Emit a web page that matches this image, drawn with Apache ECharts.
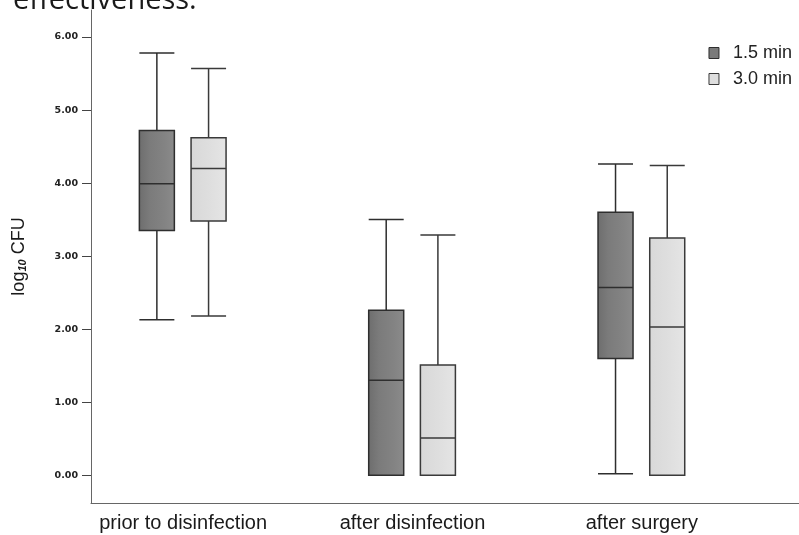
<!DOCTYPE html>
<html>
<head>
<meta charset="utf-8">
<script src="https://cdn.jsdelivr.net/npm/echarts@6/dist/echarts.min.js"></script>
<style>
html,body{margin:0;padding:0;background:#fff;}
#chart{width:799px;height:535px;}
</style>
</head>
<body>
<div id="chart"></div>
<script>
// ---- data ----
var categories = ['prior to disinfection', 'after disinfection', 'after surgery'];
var seriesNames = ['1.5 min', '3.0 min'];
// 1.5 min
var min15 = [2.13, 0.00, 0.02];
var q1_15 = [3.35, 0.00, 1.60];
var med15 = [3.99, 1.30, 2.57];
var q3_15 = [4.72, 2.26, 3.60];
var max15 = [5.78, 3.50, 4.26];
// 3.0 min
var min30 = [2.18, 0.00, 0.00];
var q1_30 = [3.48, 0.00, 0.00];
var med30 = [4.20, 0.51, 2.03];
var q3_30 = [4.62, 1.51, 3.25];
var max30 = [5.57, 3.29, 4.24];
// y ticks
var yTicks = [0, 1, 2, 3, 4, 5, 6];
var yTickLabels = ['0.00', '1.00', '2.00', '3.00', '4.00', '5.00', '6.00'];
var yMin = -0.38, yMax = 6.37;

function build(mn, q1, md, q3, mx) {
  return categories.map(function (c, i) { return [mn[i], q1[i], md[i], q3[i], mx[i]]; });
}

var chart = echarts.init(document.getElementById('chart'));
var hiddenY = function (gi) {
  return { type: 'value', gridIndex: gi, min: yMin, max: yMax, show: false };
};
var hiddenCatX = function (gi) {
  return { type: 'category', gridIndex: gi, data: categories, show: false };
};
var darkFill = new echarts.graphic.LinearGradient(0, 0, 1, 0, [
  { offset: 0, color: '#6d6d6d' }, { offset: 0.3, color: '#7b7b7b' },
  { offset: 0.7, color: '#838383' }, { offset: 1, color: '#8b8b8b' }
]);
var lightFill = new echarts.graphic.LinearGradient(0, 0, 1, 0, [
  { offset: 0, color: '#d8d8d8' }, { offset: 0.5, color: '#dedede' },
  { offset: 1, color: '#e5e5e5' }
]);

chart.setOption({
  animation: false,
  backgroundColor: '#ffffff',
  title: {
    text: 'effectiveness.',
    left: 8, top: -19,
    textStyle: { fontFamily: 'Open Sans', fontSize: 29, fontWeight: 'normal', color: '#1a1a1a' }
  },
  legend: {
    data: [
      { name: seriesNames[0], itemStyle: { color: '#7a7a7a', borderColor: '#2e2e2e', borderWidth: 1 } },
      { name: seriesNames[1], itemStyle: { color: '#dedede', borderColor: '#3a3a3a', borderWidth: 1 } }
    ],
    orient: 'vertical',
    right: 2, top: 39,
    itemWidth: 10, itemHeight: 11, itemGap: 8,
    icon: 'rect',
    textStyle: { fontFamily: 'Liberation Sans', fontSize: 18, color: '#222', padding: [0, 0, 0, 9] }
  },
  grid: [
    { left: 91, right: 0, top: 10, bottom: 32 },
    { left: 42.2, width: 688, top: 10, bottom: 32 },
    { left: 93.9, width: 688, top: 10, bottom: 32 },
    { left: 68.5, width: 688, top: 10, bottom: 32 }
  ],
  xAxis: [
    { type: 'value', gridIndex: 0, min: 0, max: 1,
      axisLine: { show: true, onZero: false, lineStyle: { color: '#666', width: 1 } },
      axisTick: { show: false }, axisLabel: { show: false }, splitLine: { show: false } },
    hiddenCatX(1),
    hiddenCatX(2),
    { type: 'category', gridIndex: 3, data: categories,
      axisLine: { show: false, onZero: false }, axisTick: { show: false }, splitLine: { show: false },
      axisLabel: { margin: 10, fontFamily: 'Liberation Sans', fontSize: 20, color: '#1a1a1a' } }
  ],
  yAxis: [
    { type: 'value', gridIndex: 0, min: yMin, max: yMax,
      name: 'log{sub|10} CFU',
      nameLocation: 'middle', nameGap: 63, nameRotate: 90,
      nameTextStyle: {
        fontFamily: 'Liberation Sans', fontSize: 18, color: '#1a1a1a',
        rich: { sub: { fontFamily: 'Liberation Sans', fontSize: 11, fontWeight: 'bold', fontStyle: 'italic', color: '#1a1a1a', verticalAlign: 'bottom', padding: [7, 0, 0, 0] } }
      },
      axisLine: { show: true, lineStyle: { color: '#666', width: 1 } },
      axisTick: { show: true, length: 9, customValues: yTicks, lineStyle: { color: '#444', width: 1 } },
      axisLabel: { customValues: yTicks, margin: 13, fontFamily: 'DejaVu Sans', fontWeight: 'bold', fontSize: 9.5, color: '#222',
        formatter: function (v) { return yTickLabels[yTicks.indexOf(Math.round(v))]; } },
      splitLine: { show: false } },
    hiddenY(1), hiddenY(2), hiddenY(3)
  ],
  series: [
    { name: seriesNames[0], type: 'boxplot', xAxisIndex: 1, yAxisIndex: 1,
      boxWidth: [35, 35],
      itemStyle: { color: darkFill, borderColor: '#2e2e2e', borderWidth: 1.5 },
      data: build(min15, q1_15, med15, q3_15, max15) },
    { name: seriesNames[1], type: 'boxplot', xAxisIndex: 2, yAxisIndex: 2,
      boxWidth: [35, 35],
      itemStyle: { color: lightFill, borderColor: '#3a3a3a', borderWidth: 1.5 },
      data: build(min30, q1_30, med30, q3_30, max30) }
  ]
});
</script>
</body>
</html>
